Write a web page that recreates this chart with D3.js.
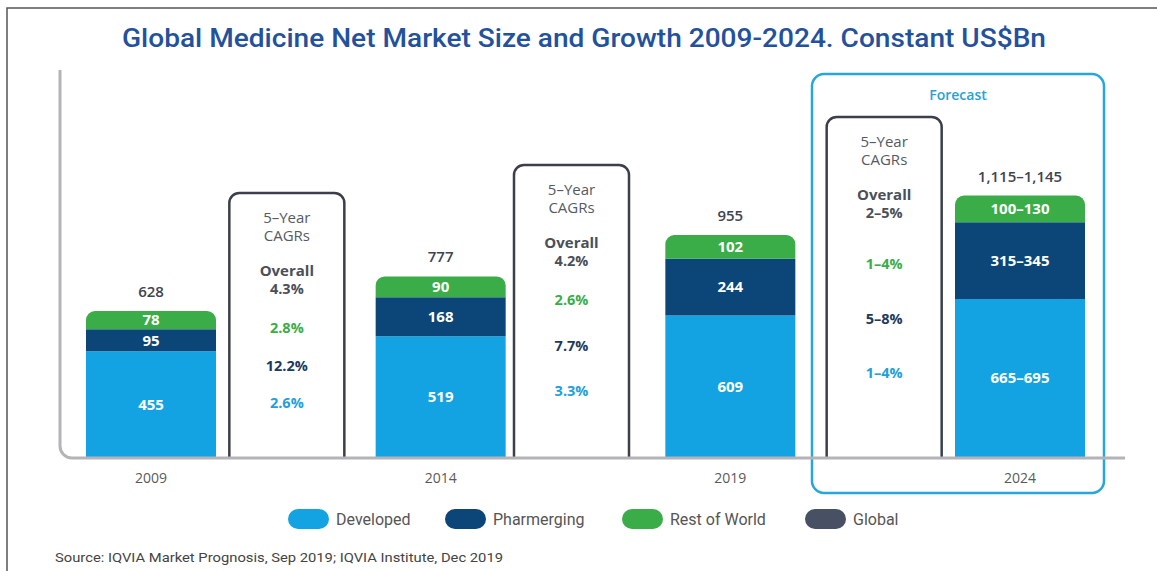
<!DOCTYPE html>
<html>
<head>
<meta charset="utf-8">
<script src="https://cdn.jsdelivr.net/npm/d3@7"></script>
<style>
  body { margin: 0; background: #fff; }
  svg { display: block; }
</style>
</head>
<body>
<svg id="chart" width="1157" height="571"></svg>
<script>
// data
const years = ["2009", "2014", "2019", "2024"];
const developedLow = [455, 519, 609, 665];
const developedHigh = [455, 519, 609, 695];
const pharmergingLow = [95, 168, 244, 315];
const pharmergingHigh = [95, 168, 244, 345];
const restLow = [78, 90, 102, 100];
const restHigh = [78, 90, 102, 130];
const totalLow = [628, 777, 955, 1115];
const totalHigh = [628, 777, 955, 1145];

// 5-year CAGR boxes (between two bars)
const cagrOverall = ["4.3%", "4.2%", "2–5%"];
const cagrRest = ["2.8%", "2.6%", "1–4%"];
const cagrPharm = ["12.2%", "7.7%", "5–8%"];
const cagrDev = ["2.6%", "3.3%", "1–4%"];

const legendNames = ["Developed", "Pharmerging", "Rest of World", "Global"];

// colours
const blue = "#13a3e2", navy = "#0c4577", green = "#3aad48", grey = "#485163";
const legendColors = [blue, navy, green, grey];
const textDark = "#3e4450";

const svg = d3.select("#chart");

// outer frame
svg.append("path")
  .attr("d", "M7,571 V8 H1157")
  .attr("fill", "none").attr("stroke", "#555").attr("stroke-width", 1.5);

svg.append("text")
  .attr("x", 584).attr("y", 47)
  .attr("text-anchor", "middle")
  .attr("font-family", "Roboto, sans-serif")
  .attr("font-weight", 500)
  .attr("font-size", 26)
  .attr("fill", "#23519c")
  .attr("textLength", 924).attr("lengthAdjust", "spacingAndGlyphs")
  .text("Global Medicine Net Market Size and Growth 2009-2024. Constant US$Bn");

// scales
const y = d3.scaleLinear().domain([0, 1665]).range([457, 70]);
const x = d3.scalePoint().domain(years).range([151, 1020]);
const barW = 130;

const mid = (a, b) => (a + b) / 2;
const fmtRange = (a, b) => a === b ? d3.format(",")(a) : d3.format(",")(a) + "–" + d3.format(",")(b);

const rows = years.map((yr, i) => ({
  year: yr,
  developed: mid(developedLow[i], developedHigh[i]),
  pharmerging: mid(pharmergingLow[i], pharmergingHigh[i]),
  rest: mid(restLow[i], restHigh[i]),
  labels: {
    developed: fmtRange(developedLow[i], developedHigh[i]),
    pharmerging: fmtRange(pharmergingLow[i], pharmergingHigh[i]),
    rest: fmtRange(restLow[i], restHigh[i])
  },
  total: fmtRange(totalLow[i], totalHigh[i])
}));
const keys = ["developed", "pharmerging", "rest"];
const segColor = { developed: blue, pharmerging: navy, rest: green };
const stacked = d3.stack().keys(keys)(rows);

// forecast box
const fx0 = 812, fx1 = 1104;
svg.append("rect")
  .attr("x", fx0).attr("y", 74).attr("width", fx1 - fx0).attr("height", 419)
  .attr("rx", 12).attr("fill", "none")
  .attr("stroke", "#27a6dd").attr("stroke-width", 2.5);
svg.append("text")
  .attr("x", (fx0 + fx1) / 2).attr("y", 100)
  .attr("text-anchor", "middle")
  .attr("font-family", "'Open Sans', sans-serif").attr("font-weight", 600)
  .attr("font-size", 14).attr("fill", "#27a2d9")
  .text("Forecast");

// bar with rounded top corners
function topRounded(x0, y0, w, h, r) {
  const p = d3.path();
  p.moveTo(x0, y0 + h);
  p.lineTo(x0, y0 + r);
  p.arcTo(x0, y0, x0 + r, y0, r);
  p.lineTo(x0 + w - r, y0);
  p.arcTo(x0 + w, y0, x0 + w, y0 + r, r);
  p.lineTo(x0 + w, y0 + h);
  p.closePath();
  return p.toString();
}

stacked.forEach(layer => {
  const k = layer.key;
  svg.append("g").selectAll("path").data(layer).join("path")
    .attr("d", d => {
      const x0 = x(d.data.year) - barW / 2;
      const h = y(d[0]) - y(d[1]);
      return k === "rest" ? topRounded(x0, y(d[1]), barW, h, 9)
                          : `M${x0},${y(d[1])}h${barW}v${h}h${-barW}Z`;
    })
    .attr("fill", segColor[k]);
  svg.append("g").selectAll("text").data(layer).join("text")
    .attr("x", d => x(d.data.year))
    .attr("y", d => (y(d[0]) + y(d[1])) / 2)
    .attr("dy", "0.36em")
    .attr("text-anchor", "middle")
    .attr("font-family", "'Open Sans', sans-serif").attr("font-weight", 700)
    .attr("font-size", 15).attr("fill", "#fff")
    .text(d => d.data.labels[k]);
});

// totals
svg.append("g").selectAll("text").data(stacked[2]).join("text")
  .attr("x", d => x(d.data.year))
  .attr("y", d => y(d[1]) - 14)
  .attr("text-anchor", "middle")
  .attr("font-family", "'Open Sans', sans-serif").attr("font-weight", 600)
  .attr("font-size", 15).attr("fill", textDark)
  .text(d => d.data.total);

// CAGR boxes
const boxW = 115;
const boxShift = [-9, -14, 9];
const boxTop = [193, 165, 117];
const rowGap = [37.5, 45.5, 54.5];
const rowStart = [135, 135, 147];
const between = years.slice(1).map((yr, i) => (x(years[i]) + x(yr)) / 2);

between.forEach((cx0, i) => {
  const cx = cx0 + boxShift[i];
  const t = boxTop[i];
  svg.append("path")
    .attr("d", () => {
      const p = d3.path(), x0 = cx - boxW / 2, x1 = cx + boxW / 2, r = 10, b = y(0);
      p.moveTo(x0, b); p.lineTo(x0, t + r); p.arcTo(x0, t, x0 + r, t, r);
      p.lineTo(x1 - r, t); p.arcTo(x1, t, x1, t + r, r); p.lineTo(x1, b);
      return p.toString();
    })
    .attr("fill", "#fff").attr("stroke", "#3a3f49").attr("stroke-width", 2.5);
  const g = svg.append("g").attr("text-anchor", "middle")
    .attr("font-family", "'Open Sans', sans-serif");
  const lines = [
    { s: "5–Year", dy: 30, w: 400, f: 15, c: "#555a63" },
    { s: "CAGRs", dy: 48, w: 400, f: 15, c: "#555a63" },
    { s: "Overall", dy: 83, w: 700, f: 15, c: "#4a4f58" },
    { s: cagrOverall[i], dy: 101, w: 700, f: 14.5, c: "#4a4f58" },
    { s: cagrRest[i], dy: rowStart[i] + 5, w: 700, f: 14.5, c: green },
    { s: cagrPharm[i], dy: rowStart[i] + 5 + rowGap[i], w: 700, f: 14.5, c: "#1c3a5e" },
    { s: cagrDev[i], dy: rowStart[i] + 5 + 2 * rowGap[i], w: 700, f: 14.5, c: "#22a0dc" }
  ];
  g.selectAll("text").data(lines).join("text")
    .attr("x", cx).attr("y", d => t + d.dy)
    .attr("font-size", d => d.f)
    .attr("font-weight", d => d.w).attr("fill", d => d.c)
    .text(d => d.s);
});

// axis lines (drawn over bar bottoms)
const ax = d3.path();
ax.moveTo(60, y.range()[1]);
ax.lineTo(60, y(0) - 1 - 12);
ax.arcTo(60, y(0) + 1, 72, y(0) + 1, 12);
ax.lineTo(1125, y(0) + 1);
svg.append("path").attr("d", ax.toString())
  .attr("fill", "none").attr("stroke", "#b4b4b8").attr("stroke-width", 3);

// year labels
svg.append("g").selectAll("text").data(years).join("text")
  .attr("x", d => x(d)).attr("y", 483)
  .attr("text-anchor", "middle")
  .attr("font-family", "'Open Sans', sans-serif").attr("font-size", 14)
  .attr("fill", "#5a5a5a")
  .text(d => d);

// legend
const legendX = [288, 445, 622, 805];
const lg = svg.append("g").selectAll("g").data(legendNames).join("g")
  .attr("transform", (d, i) => `translate(${legendX[i]},509)`);
lg.append("rect").attr("width", 41).attr("height", 20).attr("rx", 10)
  .attr("fill", (d, i) => legendColors[i]);
lg.append("text").attr("x", 48).attr("y", 16)
  .attr("font-family", "Roboto, sans-serif").attr("font-size", 16)
  .attr("fill", "#555").text(d => d);

// source
svg.append("text")
  .attr("x", 55).attr("y", 562)
  .attr("font-family", "Roboto, sans-serif").attr("font-size", 13)
  .attr("fill", "#444")
  .attr("textLength", 448).attr("lengthAdjust", "spacingAndGlyphs")
  .text("Source: IQVIA Market Prognosis, Sep 2019; IQVIA Institute, Dec 2019");
</script>
</body>
</html>
